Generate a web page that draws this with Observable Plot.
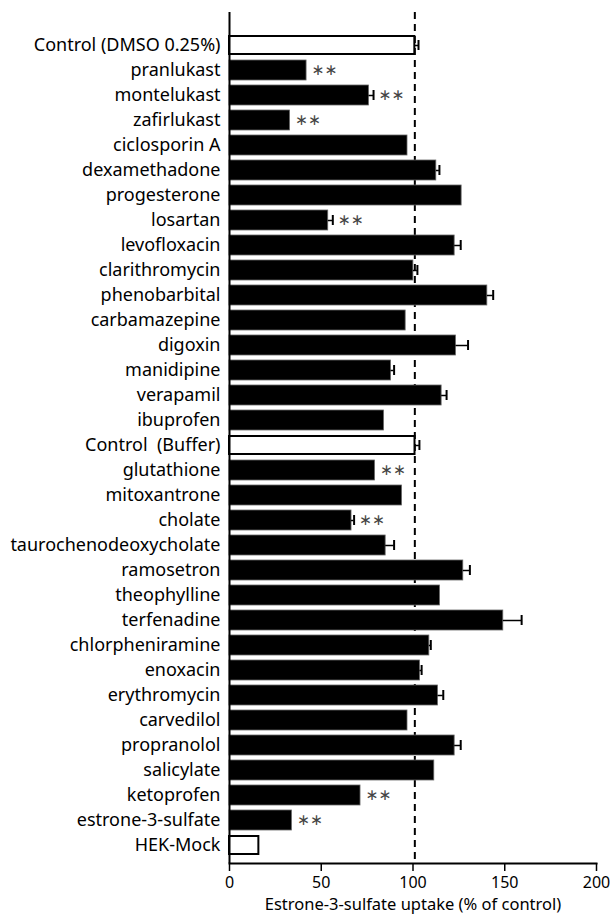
<!DOCTYPE html>
<html>
<head>
<meta charset="utf-8">
<script src="https://cdn.jsdelivr.net/npm/d3@7"></script>
<script src="https://cdn.jsdelivr.net/npm/@observablehq/plot@0.6"></script>
<style>
  html, body { margin: 0; padding: 0; background: white; }
</style>
</head>
<body>
<div id="chart"></div>
<script>
const drugs = [
  "Control (DMSO 0.25%)", "pranlukast", "montelukast", "zafirlukast", "ciclosporin A",
  "dexamethadone", "progesterone", "losartan", "levofloxacin", "clarithromycin",
  "phenobarbital", "carbamazepine", "digoxin", "manidipine", "verapamil", "ibuprofen",
  "Control\u00A0 (Buffer)", "glutathione", "mitoxantrone", "cholate", "taurochenodeoxycholate",
  "ramosetron", "theophylline", "terfenadine", "chlorpheniramine", "enoxacin",
  "erythromycin", "carvedilol", "propranolol", "salicylate", "ketoprofen",
  "estrone-3-sulfate", "HEK-Mock"
];
const uptake = [
  101, 42, 76, 33, 97,
  112.7, 126.5, 53.8, 122.7, 100.2,
  140.5, 96, 123.4, 88, 115.6, 84.2,
  101.1, 79.3, 94, 66.5, 85.1,
  127.4, 114.7, 149.2, 108.9, 103.8,
  113.6, 97, 122.7, 111.6, 71.4,
  34, 16
];
const sem = [
  2, 0, 2.5, 0, 0,
  1.7, 0, 2.5, 3.3, 2.2,
  3.2, 0, 6.6, 1.7, 2.7, 0,
  2.4, 0, 0, 1.4, 4.6,
  3.6, 0, 10, 0.8, 0.9,
  2.9, 0, 3.3, 0, 0,
  0, 0
];
const significant = [
  "pranlukast", "montelukast", "zafirlukast", "losartan", "glutathione",
  "cholate", "ketoprofen", "estrone-3-sulfate"
];
const openBars = ["Control (DMSO 0.25%)", "Control\u00A0 (Buffer)", "HEK-Mock"];
const xTicks = [0, 50, 100, 150, 200];
const controlLevel = 101;
const xTitle = "Estrone-3-sulfate uptake (% of control)";

const rows = drugs.map((name, i) => ({name, v: uptake[i], e: sem[i]}));
const withErr = rows.filter(d => d.e > 0);
const sigRows = rows.filter(d => significant.includes(d.name));

const chart = Plot.plot({
  width: 614,
  height: 916,
  marginLeft: 229,
  marginRight: 18,
  marginTop: 12,
  marginBottom: 53,
  style: {fontFamily: "'Noto Sans', sans-serif", fontSize: "16px", color: "#000", background: "white", overflow: "visible"},
  x: {domain: [0, 200], ticks: xTicks, label: null},
  y: {domain: drugs, padding: 0.2, insetTop: 15, label: null},
  marks: [
    Plot.ruleX([controlLevel], {stroke: "#000", strokeWidth: 2, strokeDasharray: "7,5"}),
    Plot.barX(rows.filter(d => !openBars.includes(d.name)), {x: "v", y: "name", fill: "#000", stroke: "#666", strokeWidth: 0.8}),
    Plot.barX(rows.filter(d => openBars.includes(d.name)), {x: "v", y: "name", fill: "#fff", stroke: "#000", strokeWidth: 2, insetTop: 1, insetBottom: 1}),
    Plot.ruleY(withErr, {y: "name", x1: "v", x2: d => d.v + d.e, stroke: "#000", strokeWidth: 1.5}),
    Plot.tickX(withErr, {x: d => d.v + d.e, y: "name", stroke: "#000", strokeWidth: 2, insetTop: 5, insetBottom: 5}),
    Plot.text(sigRows, {
      x: d => d.v + d.e, y: "name", text: () => "\u2217\u2217", dx: 5, textAnchor: "start",
      fontSize: 15.5, fontFamily: "DejaVu Sans", fill: "#444"
    }),
    Plot.ruleX([0], {stroke: "#000", strokeWidth: 2}),
    Plot.axisY({tickSize: 0, tickPadding: 9, fontSize: 18}),
    Plot.axisX({ticks: xTicks, tickSize: 8, tickPadding: 5, fontSize: 16, strokeWidth: 1.5, label: null}),
    Plot.frame({anchor: "bottom", stroke: "#000", strokeWidth: 2}),
    Plot.text([xTitle], {frameAnchor: "bottom", dy: 46, fontSize: 16.5, text: d => d, fill: "#000"})
  ]
});
document.getElementById("chart").appendChild(chart);
</script>
</body>
</html>
